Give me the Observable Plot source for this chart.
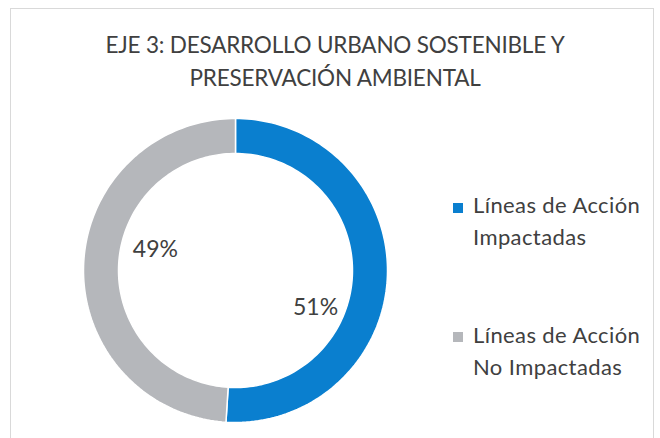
<!DOCTYPE html>
<html><head><meta charset="utf-8">
<script src="https://cdn.jsdelivr.net/npm/d3@7"></script>
<script src="https://cdn.jsdelivr.net/npm/@observablehq/plot@0.6"></script>
<style>
body{margin:0;background:#fff;}
#wrap{position:relative;width:660px;height:438px;overflow:hidden;font-family:Lato,"Open Sans",sans-serif;color:#404040;}
#frame{position:absolute;left:10px;top:8px;width:644px;height:440px;border:1px solid #d9d9d9;box-sizing:border-box;}
#title{position:absolute;left:10px;top:28px;width:650px;text-align:center;font-size:22.5px;line-height:33px;letter-spacing:-0.2px;}
#chart{position:absolute;left:0;top:100px;}
.leg{position:absolute;left:453px;font-size:22px;line-height:32px;letter-spacing:0.4px;}
.leg .sw{position:absolute;left:0;width:10px;height:10px;}
.leg .tx{position:absolute;left:20px;white-space:nowrap;}
</style></head>
<body>
<div id="wrap">
  <div id="frame"></div>
  <div id="title">EJE 3: DESARROLLO URBANO SOSTENIBLE Y<br>PRESERVACIÓN AMBIENTAL</div>
  <div id="chart"></div>
  <div id="legend"></div>
</div>
<script>
const categories = ["Líneas de Acción Impactadas", "Líneas de Acción No Impactadas"];
const legendLines = [["Líneas de Acción", "Impactadas"], ["Líneas de Acción", "No Impactadas"]];
const values = [51, 49];
const labels = ["51%", "49%"];
const colors = ["#0a7fcf", "#b5b7bb"];

const total = d3.sum(values);
const inner = 117 / 152;
let cum = 0;
const pts = [];
const labelPts = [];
values.forEach((v, i) => {
  const a0 = cum / total * 2 * Math.PI;
  cum += v;
  const a1 = cum / total * 2 * Math.PI;
  const n = 120;
  const ring = [];
  for (let k = 0; k <= n; k++) { const a = a0 + (a1 - a0) * k / n; ring.push([Math.sin(a), Math.cos(a)]); }
  for (let k = n; k >= 0; k--) { const a = a0 + (a1 - a0) * k / n; ring.push([inner * Math.sin(a), inner * Math.cos(a)]); }
  ring.push(ring[0]);
  ring.forEach(([x, y]) => pts.push({cat: categories[i], x, y}));
  const am = (a0 + a1) / 2 + 18 * Math.PI / 180;
  labelPts.push({cat: categories[i], x: 0.56 * Math.sin(am), y: 0.56 * Math.cos(am), label: labels[i]});
});

const R = 152, cx = 235, cy = 170;
const plot = Plot.plot({
  width: 440, height: 338,
  margin: 0,
  x: {domain: [-1, 1], range: [cx - R, cx + R], axis: null},
  y: {domain: [-1, 1], range: [cy + R, cy - R], axis: null},
  color: {domain: categories, range: colors},
  style: {fontFamily: "Lato, 'Open Sans', sans-serif"},
  marks: [
    Plot.line(pts, {x: "x", y: "y", z: "cat", fill: "cat", stroke: "white", strokeWidth: 1.5, curve: "linear"}),
    Plot.text(labelPts, {x: "x", y: "y", text: "label", fontSize: 23, fill: "#404040", dy: 8})
  ]
});
document.getElementById("chart").appendChild(plot);

const leg = document.getElementById("legend");
const legTops = [188.5, 318.5];
const swTops = [14.5, 13.5];
categories.forEach((c, i) => {
  const d = document.createElement("div");
  d.className = "leg";
  d.style.top = legTops[i] + "px";
  d.innerHTML = `<div class="sw" style="top:${swTops[i]}px;background:${colors[i]}"></div><div class="tx">${legendLines[i][0]}<br>${legendLines[i][1]}</div>`;
  leg.appendChild(d);
});
</script>
</body></html>
